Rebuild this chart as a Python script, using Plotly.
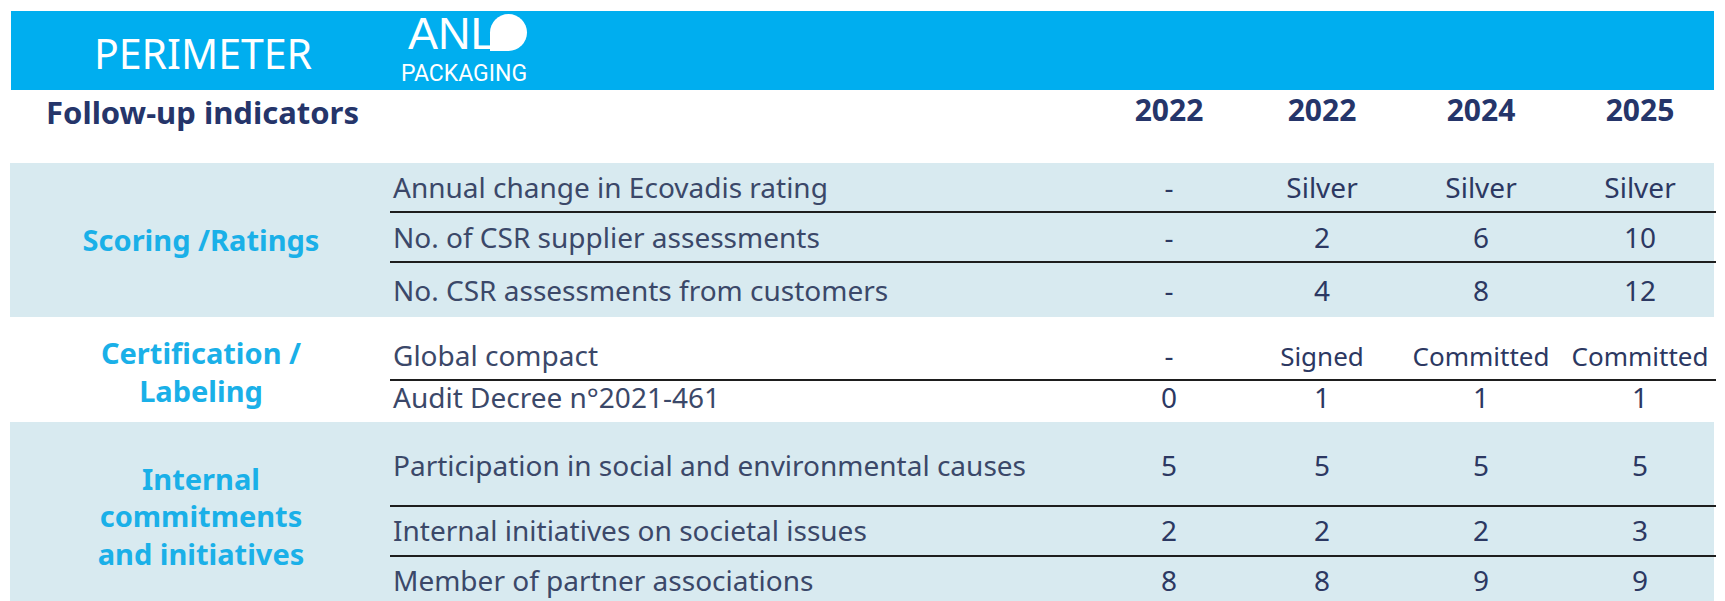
import plotly.graph_objects as go

# ---------------- data ----------------
years = ["2022", "2022", "2024", "2025"]
groups = ["Scoring /Ratings", "Certification /<br>Labeling", "Internal<br>commitments<br>and initiatives"]
indicators = [
    "Annual change in Ecovadis rating",
    "No. of CSR supplier assessments",
    "No. CSR assessments from customers",
    "Global compact",
    "Audit Decree n°2021-461",
    "Participation in social and environmental causes",
    "Internal initiatives on societal issues",
    "Member of partner associations",
]
col_2022a = ["-", "-", "-", "-", "0", "5", "2", "8"]
col_2022b = ["Silver", "2", "4", "Signed", "1", "5", "2", "8"]
col_2024 = ["Silver", "6", "8", "Committed", "1", "5", "2", "9"]
col_2025 = ["Silver", "10", "12", "Committed", "1", "5", "3", "9"]
value_cols = [col_2022a, col_2022b, col_2024, col_2025]

# ---------------- layout geometry (pixels) ----------------
W, H = 1725, 601
OFF = 8  # page body margin
BLUE = "#00aeef"
LIGHT = "#d8eaf0"
TXT = "#3b4869"
VAL = "#2c3862"
HDR = "#25356a"
GRP = "#1ab0e8"
FONT = "Noto Sans"

row_y = [191, 241, 294, 359, 401, 469, 534, 584]
line_y = [212, 262, 380, 506, 556]
group_y = [244, 376, 520]
group_bands = [(163, 317), (422, 610)]
col_x = [1169, 1322, 1481, 1640]
label_x = 393
group_x = 201

fig = go.Figure()

shapes = []
shapes.append(dict(type="rect", x0=11, x1=1714, y0=11, y1=90, fillcolor=BLUE, line_width=0, layer="below"))
for y0, y1 in group_bands:
    shapes.append(dict(type="rect", x0=10, x1=1714, y0=y0, y1=y1, fillcolor=LIGHT, line_width=0, layer="below"))
for ly in line_y:
    shapes.append(dict(type="line", x0=390, x1=1716, y0=ly, y1=ly, line=dict(color="#1e1e1e", width=2)))
# logo "D" mark
shapes.append(dict(type="circle", x0=490, x1=527, y0=14, y1=51, fillcolor="white", line_width=0))
shapes.append(dict(type="rect", x0=490, x1=509, y0=32, y1=51, fillcolor="white", line_width=0))

# indicator labels
fig.add_trace(go.Scatter(x=[label_x] * len(indicators), y=row_y, text=indicators, mode="text",
                         textposition="middle right", textfont=dict(family=FONT, size=28, color=TXT),
                         hoverinfo="skip"))
# group labels
fig.add_trace(go.Scatter(x=[group_x] * len(groups), y=group_y, text=["<b>%s</b>" % g for g in groups],
                         mode="text", textposition="middle center",
                         textfont=dict(family=FONT, size=29, color=GRP), hoverinfo="skip"))
# values
for cx, vals in zip(col_x, value_cols):
    sizes = [26 if v in ("Committed", "Signed") else 28 for v in vals]
    fig.add_trace(go.Scatter(x=[cx] * len(vals), y=row_y, text=vals, mode="text",
                             textposition="middle center",
                             textfont=dict(family=FONT, size=sizes, color=VAL), hoverinfo="skip"))
# year headers
fig.add_trace(go.Scatter(x=col_x, y=[113] * len(years), text=["<b>%s</b>" % y for y in years], mode="text",
                         textposition="middle center", textfont=dict(family=FONT, size=30, color=HDR),
                         hoverinfo="skip"))

annotations = [
    dict(x=203, y=53, text="PERIMETER", showarrow=False, xanchor="center", yanchor="middle",
         font=dict(family=FONT, size=41, color="white")),
    dict(x=44, y=112, text="<b>Follow-up indicators</b>", showarrow=False, xanchor="left", yanchor="middle",
         font=dict(family=FONT, size=31, color=HDR)),
    dict(x=452, y=33, text="ANL", showarrow=False, xanchor="center", yanchor="middle",
         font=dict(family="Liberation Sans", size=45, color="white")),
    dict(x=464, y=73, text="PACKAGING", showarrow=False, xanchor="center", yanchor="middle",
         font=dict(family="Roboto", size=23, color="white")),
]

fig.update_layout(
    width=W, height=H, margin=dict(l=0, r=0, t=0, b=0),
    paper_bgcolor="white", plot_bgcolor="white", showlegend=False,
    shapes=shapes, annotations=annotations,
    xaxis=dict(range=[OFF, W + OFF], visible=False, fixedrange=True),
    yaxis=dict(range=[H + OFF, OFF], visible=False, fixedrange=True),
)
fig.write_html("out.html")
